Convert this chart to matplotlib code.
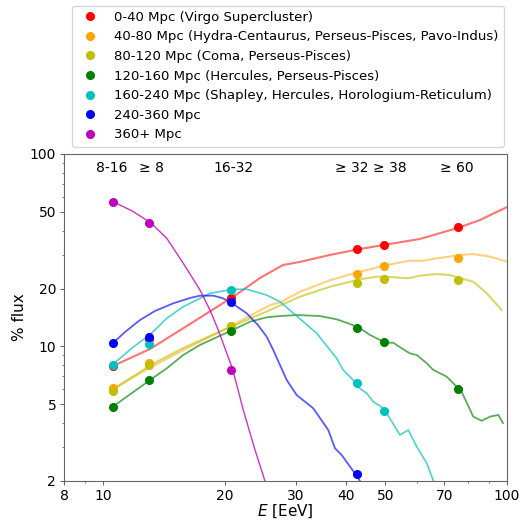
import numpy as np
import matplotlib
matplotlib.use("Agg")
import matplotlib.pyplot as plt
from matplotlib.ticker import FixedLocator, NullFormatter, FixedFormatter

labels = [
    "0-40 Mpc (Virgo Supercluster)",
    "40-80 Mpc (Hydra-Centaurus, Perseus-Pisces, Pavo-Indus)",
    "80-120 Mpc (Coma, Perseus-Pisces)",
    "120-160 Mpc (Hercules, Perseus-Pisces)",
    "160-240 Mpc (Shapley, Hercules, Horologium-Reticulum)",
    "240-360 Mpc",
    "360+ Mpc",
]
colors = ["r", "orange", "y", "g", "c", "b", "m"]

# measured points
E_pts = [10.6, 13.0, 20.7, 42.6, 49.5, 75.6]
pts_red = [7.94, 10.9, 17.9, 32.2, 33.8, 41.6]
pts_orange = [6.06, 8.24, 12.8, 23.9, 26.1, 28.9]
pts_yellow = [5.89, 8.04, 12.7, 21.4, 22.5, 22.1]
pts_green = [4.86, 6.69, 12.1, 12.4, 10.5, 6.03]
pts_cyan = [8.04, 10.3, 19.7, 6.44, 4.64, np.nan]
pts_blue = [10.4, 11.2, 16.96, 2.18, np.nan, np.nan]
pts_magenta = [56.5, 43.6, 7.55, np.nan, np.nan, np.nan]

# model curves
E_red = [10.58, 13.06, 15.79, 20.97, 24.45, 27.88, 30.72, 36.45, 43.25, 49.6, 60.9, 75.6, 85.7, 100]
v_red = [7.92, 9.70, 12.44, 18.1, 22.68, 26.5, 27.5, 29.9, 32.1, 33.7, 36.2, 41.3, 45.4, 53.0]

E_orange = [10.58, 13.06, 15.79, 19.1, 20.93, 25.9, 27.41, 30.72, 36.45, 43.25, 50.36, 57.5, 62.0, 66.97, 76.9, 82.5, 90.8, 99.8]
v_orange = [6.06, 7.76, 9.58, 11.7, 12.92, 16.42, 16.92, 19.26, 22.1, 24.46, 26.5, 27.9, 27.9, 28.7, 29.9, 30.2, 29.3, 27.6]

E_yellow = [10.58, 13.11, 15.79, 19.1, 20.93, 25.9, 30.72, 36.45, 43.25, 47.57, 50.36, 56.95, 60.9, 66.97, 72.2, 76.9, 82.5, 89.1, 97.0]
v_yellow = [5.94, 8.01, 9.82, 11.74, 12.77, 15.46, 18.14, 20.44, 22.34, 23.04, 23.04, 22.61, 23.32, 23.79, 23.5, 22.61, 21.7, 18.89, 15.46]

E_green = [10.56, 13.06, 14.37, 15.79, 17.37, 19.1, 20.93, 23.1, 25.41, 27.41, 30.15, 34.4, 37.86, 40.9, 43.25,
           45.8, 48.5, 50.36, 52.3, 54.85, 57.5, 59.75, 63.3, 65.7, 70.9, 74.3, 77.2, 82.5, 86.6, 90.8, 95.2, 97.7]
v_green = [4.86, 6.69, 7.70, 9.03, 10.18, 11.16, 12.17, 13.45, 14.17, 14.39, 14.57, 14.39, 13.84, 13.08, 12.43,
           11.47, 10.8, 10.46, 10.46, 9.78, 9.21, 9.03, 8.18, 7.55, 6.97, 6.31, 5.82, 4.32, 4.11, 4.32, 4.41, 4.0]

E_cyan = [10.56, 11.79, 13.11, 14.37, 15.79, 18.39, 21.0, 22.67, 25.41, 27.41, 30.15, 33.8, 37.86, 39.3, 41.6,
          42.83, 44.94, 46.66, 48.5, 50.36, 54.3, 56.95, 59.75, 63.3, 65.7, 66.7]
v_cyan = [8.04, 9.82, 11.57, 14.01, 16.09, 18.89, 19.82, 19.82, 18.5, 17.08, 14.39, 11.7, 8.68, 7.55, 6.69,
          6.14, 5.71, 5.16, 4.91, 4.50, 3.47, 3.68, 3.02, 2.47, 2.01, 1.9]

E_blue = [10.56, 11.33, 12.34, 13.44, 14.92, 16.41, 17.37, 18.74, 19.70, 20.61, 22.67, 24.17, 25.41, 26.38,
          28.48, 30.15, 33.14, 36.09, 37.5, 38.96, 42.83, 43.74]
v_blue = [10.39, 11.89, 13.72, 15.29, 16.76, 17.86, 18.36, 18.36, 17.86, 17.08, 14.87, 12.92, 11.24, 9.58,
          6.69, 5.59, 4.77, 3.68, 2.96, 2.73, 2.07, 1.91]

E_magenta = [10.58, 11.8, 13.11, 14.37, 15.79, 17.37, 18.39, 19.28, 20.93, 22.23, 23.77, 25.16, 26.5]
v_magenta = [56.5, 50.6, 43.97, 36.5, 27.05, 19.66, 15.46, 12.17, 7.61, 4.68, 2.90, 2.0, 1.7]

curves = [(E_red, v_red), (E_orange, v_orange), (E_yellow, v_yellow), (E_green, v_green),
          (E_cyan, v_cyan), (E_blue, v_blue), (E_magenta, v_magenta)]
points = [pts_red, pts_orange, pts_yellow, pts_green, pts_cyan, pts_blue, pts_magenta]
line_alpha = [0.55, 0.5, 0.6, 0.65, 0.7, 0.65, 0.8]
line_w = [1.5, 1.5, 1.5, 1.3, 1.2, 1.3, 1.0]

band_pos = [10.5, 13.2, 21.0, 41.2, 51.3, 75.3]
band_txt = ["8-16", "≥ 8", "16-32", "≥ 32", "≥ 38", "≥ 60"]

fig = plt.figure(figsize=(5.27, 5.22), dpi=100)
ax = fig.add_axes([64/527, 1-481/522, 443/527, 327/522])

handles = []
for (E, v), c, a, lw in zip(curves, colors, line_alpha, line_w):
    ax.plot(E, v, color=c, alpha=a, lw=lw)
for pv, c, lab in zip(points, colors, labels):
    h, = ax.plot(E_pts, pv, "o", color=c, ms=5.5, lw=0, label=lab)
    handles.append(h)

ax.set_xscale("log")
ax.set_yscale("log")
ax.set_xlim(8, 100)
ax.set_ylim(2, 100)

xt = [8, 10, 20, 30, 40, 50, 70, 100]
ax.xaxis.set_major_locator(FixedLocator(xt))
ax.xaxis.set_major_formatter(FixedFormatter([str(t) for t in xt]))
ax.xaxis.set_minor_locator(FixedLocator([9, 60, 80, 90]))
ax.xaxis.set_minor_formatter(NullFormatter())
yt = [2, 5, 10, 20, 50, 100]
ax.yaxis.set_major_locator(FixedLocator(yt))
ax.yaxis.set_major_formatter(FixedFormatter([str(t) for t in yt]))
ax.yaxis.set_minor_locator(FixedLocator([3, 4, 6, 7, 8, 9, 30, 40, 60, 70, 80, 90]))
ax.yaxis.set_minor_formatter(NullFormatter())

spine_col = "#666666"
for s in ax.spines.values():
    s.set_color(spine_col)
    s.set_linewidth(0.8)
ax.tick_params(which="both", color=spine_col, labelsize=10)
ax.tick_params(which="major", length=2.6, width=0.8)
ax.tick_params(which="minor", length=1.5, width=0.6)
ax.tick_params(axis="x", which="both", pad=3)
ax.tick_params(axis="y", which="both", pad=3)

for xp, t in zip(band_pos, band_txt):
    ax.text(xp, 1 - 14/327, t, transform=ax.get_xaxis_transform(), ha="center", va="center", fontsize=10)

ax.set_xlabel(r"$E$ [EeV]", fontsize=11, labelpad=0)
ax.set_ylabel("% flux", fontsize=11, labelpad=2)

fig.legend(handles=handles, loc="upper left", bbox_to_anchor=(72/527, 1-5.5/522), fontsize=9.5,
           borderaxespad=0, frameon=True)

fig.savefig("out.png", dpi=100)
